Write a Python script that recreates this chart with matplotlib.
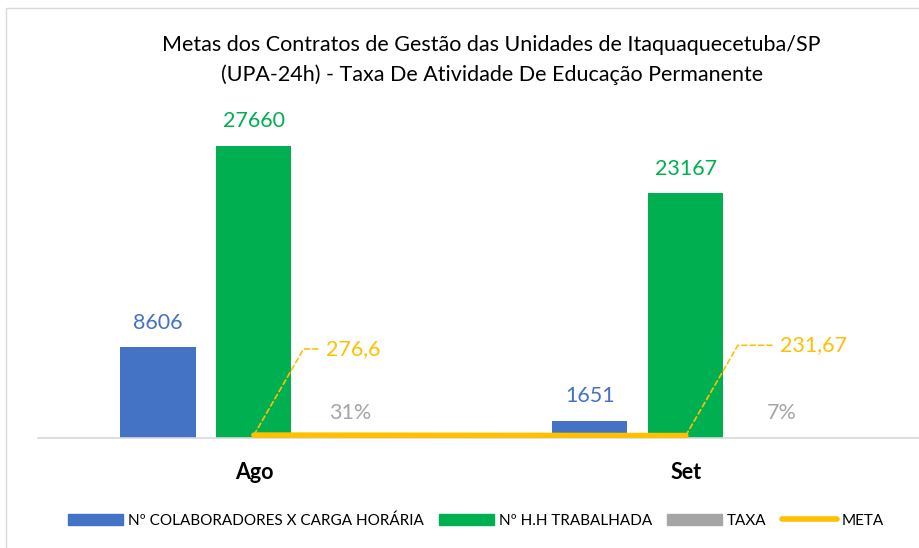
import numpy as np
import matplotlib.pyplot as plt
from matplotlib.patches import Patch, Rectangle
from matplotlib.lines import Line2D

plt.rcParams['font.family'] = ['Lato', 'DejaVu Sans']

meses = ['Ago', 'Set']
colaboradores = [8606, 1651]
hh_trabalhada = [27660, 23167]
taxa = [0.31, 0.07]
taxa_labels = ['31%', '7%']
meta = [276.6, 231.67]
meta_labels = ['276,6', '231,67']

azul = '#4472C4'
verde = '#00B050'
cinza = '#A5A5A5'
amarelo = '#FFC000'

fig = plt.figure(figsize=(9.19, 5.48), dpi=100)
ax = fig.add_axes([0.0413, 0.2007, 0.9587, 0.5785])

x = np.arange(len(meses))
w = 0.174
off = 0.222

b1 = ax.bar(x - off, colaboradores, w, color=azul)
b2 = ax.bar(x, hh_trabalhada, w, color=verde)
b3 = ax.bar(x + off, taxa, w, color=cinza)
ax.plot(x, meta, color=amarelo, lw=4, solid_capstyle='round', zorder=3)

for bars, vals, col in [(b1, colaboradores, azul), (b2, hh_trabalhada, verde)]:
    for r, v in zip(bars, vals):
        ax.annotate(str(v), (r.get_x() + r.get_width() / 2, r.get_height()),
                    xytext=(0, 17.5), textcoords='offset points', ha='center', va='center',
                    fontsize=15.5, color=col)
for r, t in zip(b3, taxa_labels):
    ax.annotate(t, (r.get_x() + r.get_width() / 2, r.get_height()),
                xytext=(0, 18), textcoords='offset points', ha='center', va='center',
                fontsize=15.5, color=cinza)

# rotulos da meta com linha de chamada
desloc = [(52, 62), (68, 65)]
for xi, v, t, (dx, dy) in zip(x, meta, meta_labels, desloc):
    ax.annotate(t, (xi, v), xytext=(dx, dy), textcoords='offset points',
                ha='left', va='center', fontsize=15.5, color=amarelo,
                arrowprops=dict(arrowstyle='-', color=amarelo, lw=1.2, linestyle=(0, (3, 2)),
                                connectionstyle='angle,angleA=180,angleB=60,rad=0',
                                shrinkA=4, shrinkB=0))

ax.set_xlim(-0.5, 1.54)
ax.set_ylim(0, 30000)
ax.set_yticks([])
ax.set_xticks(x)
ax.set_xticklabels(meses, fontsize=15.5, fontweight='bold')
ax.tick_params(axis='x', length=0, pad=17)
for s in ['top', 'right', 'left']:
    ax.spines[s].set_visible(False)
ax.spines['bottom'].set_color('#D9D9D9')
ax.spines['bottom'].set_linewidth(1.2)

fig.text(0.535, 0.917, 'Metas dos Contratos de Gestão das Unidades de Itaquaquecetuba/SP',
         ha='center', va='center', fontsize=15.5)
fig.text(0.535, 0.863, '(UPA-24h) - Taxa De Atividade De Educação Permanente',
         ha='center', va='center', fontsize=15.5)

handles = [Patch(color=azul), Patch(color=verde), Patch(color=cinza),
           Line2D([0], [0], color=amarelo, lw=4, solid_capstyle='round')]
labels = ['Nº COLABORADORES X CARGA HORÁRIA', 'Nº H.H TRABALHADA', 'TAXA', 'META']
fig.legend(handles, labels, loc='center', bbox_to_anchor=(0.518, 0.05), ncol=4,
           frameon=False, fontsize=11, handlelength=3.6, handleheight=0.8,
           handletextpad=0.3, columnspacing=1.0)

fig.patches.append(Rectangle((0.006, -0.01), 1.0, 0.996, transform=fig.transFigure,
                             fill=False, edgecolor='#D9D9D9', lw=1))

fig.savefig('out.png', dpi=100)
